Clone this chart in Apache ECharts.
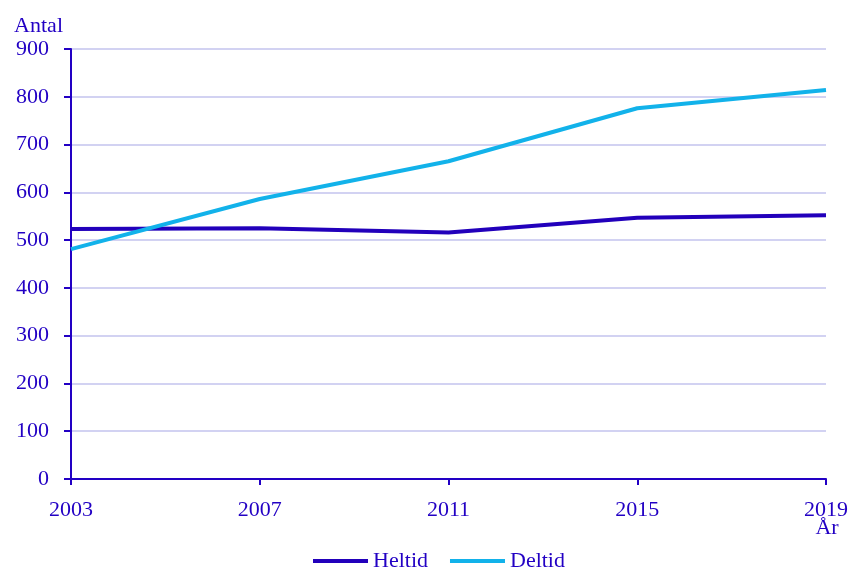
<!DOCTYPE html>
<html>
<head>
<meta charset="utf-8">
<script src="https://cdn.jsdelivr.net/npm/echarts@6/dist/echarts.min.js"></script>
<style>
  html, body { margin: 0; padding: 0; background: #ffffff; }
  #chart { width: 850px; height: 567px; }
</style>
</head>
<body>
<div id="chart"></div>
<script>
// Survey years on the horizontal axis
const years = ['2003', '2007', '2011', '2015', '2019'];
// Number of persons per year
const heltid = [523, 525, 516, 547, 552];
const deltid = [481, 586, 665, 776, 814];

const ink = '#2200c4';
const font = 'Liberation Serif';

const chart = echarts.init(document.getElementById('chart'));
chart.setOption({
  animation: false,
  backgroundColor: '#ffffff',
  textStyle: { fontFamily: font, color: ink },
  grid: { left: 71, right: 24, top: 49, bottom: 88, containLabel: false, outerBoundsMode: 'none' },
  legend: {
    left: 313,
    top: 550,
    padding: 0,
    icon: 'rect',
    itemWidth: 55,
    itemHeight: 4,
    itemGap: 22,
    textStyle: { fontFamily: font, fontSize: 22, color: ink },
    data: ['Heltid', 'Deltid']
  },
  xAxis: {
    type: 'category',
    data: years,
    boundaryGap: false,
    name: 'År',
    nameLocation: 'end',
    nameGap: 0,
    nameMoveOverlap: false,
    nameTextStyle: {
      fontFamily: font, fontSize: 22, color: ink,
      align: 'center', verticalAlign: 'top',
      padding: [38, 0, 0, 2]
    },
    axisLine: { lineStyle: { color: ink, width: 2 } },
    axisTick: { show: true, length: 6, lineStyle: { color: ink, width: 2 }, alignWithLabel: true },
    axisLabel: { fontFamily: font, fontSize: 22, color: ink, margin: 20 },
    splitLine: { show: false }
  },
  yAxis: {
    type: 'value',
    min: 0,
    max: 900,
    interval: 100,
    name: 'Antal',
    nameLocation: 'end',
    nameGap: 12,
    nameTextStyle: {
      fontFamily: font, fontSize: 22, color: ink,
      align: 'right', padding: [0, 8, 0, 0]
    },
    axisLine: { show: true, lineStyle: { color: ink, width: 2 } },
    axisTick: { show: true, length: 7, lineStyle: { color: ink, width: 2 } },
    axisLabel: { fontFamily: font, fontSize: 22, color: ink, margin: 22 },
    splitLine: { show: true, lineStyle: { color: '#d2d2f2', width: 2 } }
  },
  series: [
    {
      name: 'Heltid',
      type: 'line',
      data: heltid,
      showSymbol: false,
      symbol: 'none',
      color: '#2200bb',
      lineStyle: { color: '#2200bb', width: 4 }
    },
    {
      name: 'Deltid',
      type: 'line',
      data: deltid,
      showSymbol: false,
      symbol: 'none',
      color: '#12b2ea',
      lineStyle: { color: '#12b2ea', width: 4 }
    }
  ]
});
</script>
</body>
</html>
